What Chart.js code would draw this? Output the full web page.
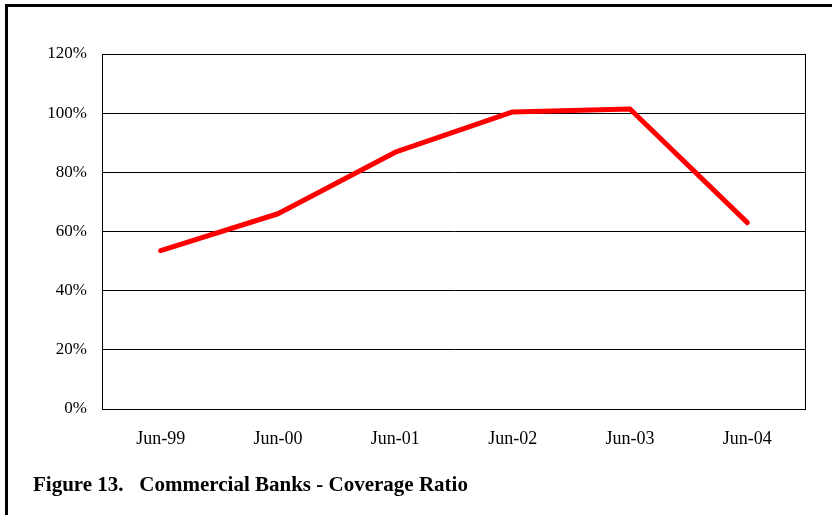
<!DOCTYPE html>
<html>
<head>
<meta charset="utf-8">
<script src="https://cdn.jsdelivr.net/npm/chart.js@4"></script>
<style>
  body { margin: 0; background: #fff; }
  #wrap { position: relative; width: 832px; height: 515px; overflow: hidden; }
  #frame {
    position: absolute; left: 5px; top: 4px; width: 840px; height: 520px;
    border-top: 3px solid #000; border-left: 3px solid #000;
  }
  #caption {
    position: absolute; left: 33px; top: 472px;
    font: bold 21px "Liberation Serif", "Times New Roman", serif;
    white-space: pre; color: #000;
  }
</style>
</head>
<body>
<div id="wrap">
  <canvas id="chart" width="832" height="515"></canvas>
  <div id="frame"></div>
  <div id="caption">Figure 13.   Commercial Banks - Coverage Ratio</div>
</div>
<script>
const labels = ["Jun-99", "Jun-00", "Jun-01", "Jun-02", "Jun-03", "Jun-04"];
const coverage = [53.5, 66.0, 86.8, 100.4, 101.4, 63.0];
const yTicks = [0, 20, 40, 60, 80, 100, 120];

// box around the plot area
const plotFrame = {
  id: "plotFrame",
  afterDraw(chart) {
    const { ctx, chartArea: a } = chart;
    ctx.save();
    ctx.strokeStyle = "#000";
    ctx.lineWidth = 1;
    ctx.strokeRect(a.left + 0.5, a.top + 0.5, a.right - a.left - 1, a.bottom - a.top);
    ctx.restore();
  }
};

const ctx = document.getElementById("chart").getContext("2d");
new Chart(ctx, {
  type: "line",
  data: {
    labels: labels,
    datasets: [{
      data: coverage,
      borderColor: "rgb(255, 0, 0)",
      borderWidth: 5,
      pointRadius: 0,
      tension: 0,
      borderCapStyle: "round",
      borderJoinStyle: "round",
    }],
  },
  options: {
    responsive: false,
    animation: false,
    layout: { padding: { top: 54, right: 26, bottom: 0, left: 0 } },
    plugins: { legend: { display: false }, tooltip: { enabled: false } },
    scales: {
      x: {
        offset: true,
        grid: { display: false, drawTicks: false },
        border: { display: false },
        ticks: {
          padding: 19,
          color: "#000",
          maxRotation: 0,
          font: { family: "Liberation Serif", size: 18 },
        },
        afterFit: (s) => { s.height = 106; },
      },
      y: {
        min: 0,
        max: 120,
        afterBuildTicks: (s) => { s.ticks = yTicks.map(v => ({ value: v })); },
        grid: { color: "#000", lineWidth: 1, drawTicks: false },
        border: { color: "#000", width: 1 },
        ticks: {
          padding: 15,
          color: "#000",
          font: { family: "Liberation Serif", size: 17 },
          callback: (v) => v + "%",
        },
        afterFit: (s) => { s.width = 102; },
      },
    },
  },
  plugins: [plotFrame],
});
</script>
</body>
</html>
